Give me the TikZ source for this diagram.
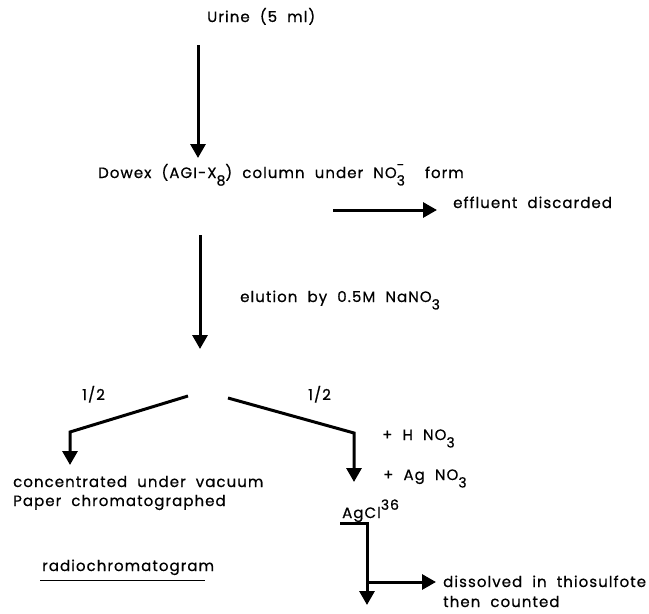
\documentclass[tikz,border=0pt]{standalone}
\usepackage{fontspec}
\setmainfont{Poppins}[LetterSpace=7,WordSpace=2,FakeBold=0.6]
\usetikzlibrary{arrows.meta,positioning}

% chemical indices set in the text font
\newcommand{\lowidx}[1]{\raisebox{-0.5em}{\fontsize{14}{14}\selectfont #1}}
\newcommand{\highidx}[1]{\raisebox{0.55em}{\fontsize{14}{14}\selectfont #1}}
\newcommand{\nitrate}{NO\rlap{\highidx{-}}\lowidx{3}}

\begin{document}
\begin{tikzpicture}[
  x=1pt,y=-1pt,
  flow/.style={line width=3pt,-{Triangle[width=15pt,length=14pt]}},
  stage/.style={anchor=base west,inner sep=0pt,font=\fontsize{15}{19}\selectfont,align=left},
]
\useasboundingbox (0,0) rectangle (649,614);

% stages
\node[stage] (urine) at (207,22) {Urine (5 ml)};
\node[stage] (dowex) at (98,178) {Dowex (AGI-X\lowidx{8}) column under \nitrate\hspace{10pt} form};
\node[stage] (waste) at (453,208) {effluent discarded};
\node[stage] (elute) at (240,302) {elution by 0.5M NaNO\lowidx{3}};
\node[stage] (halfA) at (82,400) {1/2};
\node[stage] (halfB) at (308,400) {1/2};
\node[stage] (conc) at (13,487) {concentrated under vacuum};
\node[stage] (paper) at (13,506) {Paper chromatographed};
\node[stage] (radio) at (42,571) {radiochromatogram};
\node[stage] (hno) at (382,440) {+ H NO\lowidx{3}};
\node[stage] (agno) at (383,480) {+ Ag NO\lowidx{3}};
\node[stage] (agcl) at (342,518) {AgCl\highidx{36}};
\node[stage] (thio) at (443,587) {dissolved in thiosulfote};
\node[stage] (count) at (443,607) {then counted};

% turning points
\coordinate (u0) at (198,45);
\coordinate (d0) at (198,158);
\coordinate (w0) at (333,210);
\coordinate (w1) at (437,210);
\coordinate (e0) at (200,235);
\coordinate (e1) at (200,349);
\coordinate (sA) at (188,396);
\coordinate (kA) at (70,432);
\coordinate (tA) at (70,465);
\coordinate (sB) at (228,398);
\coordinate (kB) at (354,433);
\coordinate (tB) at (354,482);
\coordinate (c0) at (340,523);
\coordinate (c1) at (367,605);
\coordinate (h0) at (367,582);
\coordinate (h1) at (436,582);

% connectors
\draw[flow] (u0) -- (d0);
\draw[flow] (w0) -- (w1);
\draw[flow] (e0) -- (e1);
\draw[flow] (sA) -- (kA) -- (tA);
\draw[flow] (sB) -- (kB) -- (tB);
\draw[flow] (c0) -| (c1);
\draw[flow] (h0) -- (h1);
\draw[line width=1.4pt] (radio.south west) ++(-2,5) -- ++(165,0);
\end{tikzpicture}
\end{document}
